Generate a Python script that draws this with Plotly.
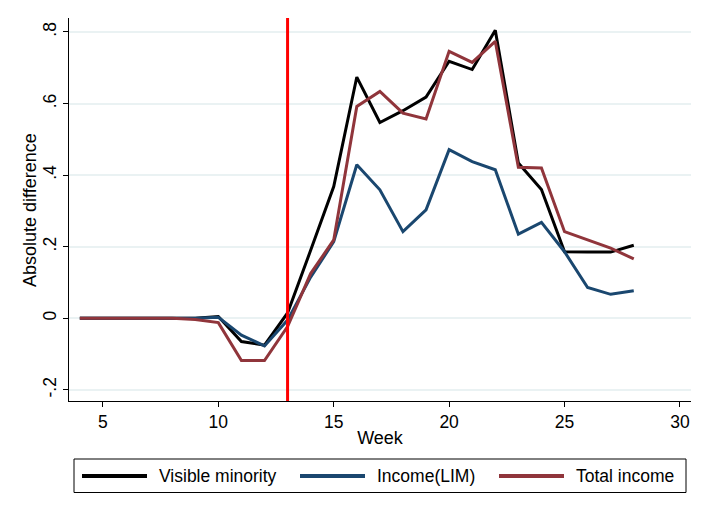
import plotly.graph_objects as go

WEEKS = list(range(4, 29))

VISIBLE_MINORITY = [
    0, 0, 0, 0, 0, 0, 0.005, -0.065, -0.075, 0.015, 0.19, 0.368,
    0.674, 0.547, 0.58, 0.618, 0.718, 0.695, 0.805, 0.434, 0.36,
    0.186, 0.185, 0.185, 0.204,
]
INCOME_LIM = [
    0, 0, 0, 0, 0, 0, 0.003, -0.047, -0.077, -0.005, 0.115, 0.214,
    0.429, 0.359, 0.242, 0.303, 0.471, 0.438, 0.415, 0.235, 0.268,
    0.186, 0.086, 0.067, 0.077,
]
TOTAL_INCOME = [
    0, 0, 0, 0, 0, -0.003, -0.012, -0.118, -0.118, -0.023, 0.125, 0.219,
    0.592, 0.634, 0.573, 0.557, 0.746, 0.715, 0.774, 0.422, 0.42,
    0.242, 0.219, 0.196, 0.166,
]

SERIES_NAMES = ["Visible minority", "Income(LIM)", "Total income"]
SERIES_COLORS = ["#000000", "#1a476f", "#90353b"]

POLICY_WEEK = 13

X_TICKS = [5, 10, 15, 20, 25, 30]
Y_TICKS = [-0.2, 0, 0.2, 0.4, 0.6, 0.8]
Y_TICK_LABELS = ["-.2", "0", ".2", ".4", ".6", ".8"]
X_TITLE = "Week"
Y_TITLE = "Absolute difference"

FONT = "Liberation Sans, Arial, sans-serif"
TICK_FONT_SIZE = 17.5
TITLE_FONT_SIZE = 18
LEGEND_FONT_SIZE = 17.5

# the page body keeps the browser's default 8px margin, so the figure is
# drawn 8px right/down of the window corner; lay it out in window pixels
PAGE_OFFSET = 8
WIDTH, HEIGHT = 710 - PAGE_OFFSET, 517 - PAGE_OFFSET
PLOT_LEFT, PLOT_RIGHT, PLOT_TOP, PLOT_BOTTOM = 69, 691, 18, 401
MARGIN = dict(
    l=PLOT_LEFT - PAGE_OFFSET,
    r=710 - PLOT_RIGHT,
    t=PLOT_TOP - PAGE_OFFSET,
    b=517 - PLOT_BOTTOM,
)


def px_x(x):
    return (x - PLOT_LEFT) / (PLOT_RIGHT - PLOT_LEFT)


def px_y(y):
    return (PLOT_BOTTOM - y) / (PLOT_BOTTOM - PLOT_TOP)


def make_figure() -> go.Figure:
    fig = go.Figure()
    for name, values, color in zip(
        SERIES_NAMES, [VISIBLE_MINORITY, INCOME_LIM, TOTAL_INCOME], SERIES_COLORS
    ):
        fig.add_trace(
            go.Scatter(
                x=WEEKS,
                y=values,
                mode="lines",
                name=name,
                line=dict(color=color, width=3),
                showlegend=False,
            )
        )

    fig.add_vline(x=POLICY_WEEK, line_color="#ff0000", line_width=3, layer="above")

    fig.update_xaxes(
        range=[3.53, 30.48],
        tickvals=X_TICKS,
        ticks="outside",
        ticklen=5,
        tickcolor="black",
        showline=True,
        linecolor="black",
        linewidth=1,
        showgrid=False,
        zeroline=False,
        automargin=False,
        title_text=X_TITLE,
        title_standoff=0,
        tickfont=dict(size=TICK_FONT_SIZE, color="black"),
        title_font=dict(size=TITLE_FONT_SIZE, color="black"),
    )
    fig.update_yaxes(
        range=[-0.231, 0.839],
        tickvals=Y_TICKS,
        ticktext=Y_TICK_LABELS,
        tickangle=-90,
        ticks="outside",
        ticklen=5,
        tickcolor="black",
        showline=True,
        linecolor="black",
        linewidth=1,
        showgrid=True,
        gridcolor="#eaf2f3",
        gridwidth=1.5,
        zeroline=False,
        automargin=False,
        tickfont=dict(size=TICK_FONT_SIZE, color="black"),
    )

    # y title placed by hand: plotly keeps it too far from the rotated ticks
    fig.add_annotation(
        xref="paper",
        yref="paper",
        x=px_x(30),
        y=px_y(210),
        xanchor="center",
        yanchor="middle",
        textangle=-90,
        text=Y_TITLE,
        showarrow=False,
        font=dict(size=TITLE_FONT_SIZE, color="black"),
    )

    _add_legend_box(fig)

    fig.update_layout(
        width=WIDTH,
        height=HEIGHT,
        margin=MARGIN,
        plot_bgcolor="white",
        paper_bgcolor="white",
        font=dict(family=FONT, size=TICK_FONT_SIZE, color="black"),
        showlegend=False,
    )
    return fig


def _add_legend_box(fig):
    # Stata-style legend: boxed row below the plot, long line samples
    fig.add_shape(
        type="rect",
        xref="paper",
        yref="paper",
        x0=px_x(74),
        x1=px_x(686),
        y0=px_y(492.5),
        y1=px_y(459),
        line=dict(color="black", width=1),
        fillcolor="white",
    )
    y_mid = px_y(476)
    sample_starts = [82, 300, 499]
    for name, color, start in zip(SERIES_NAMES, SERIES_COLORS, sample_starts):
        fig.add_shape(
            type="line",
            xref="paper",
            yref="paper",
            x0=px_x(start),
            x1=px_x(start + 65),
            y0=y_mid,
            y1=y_mid,
            line=dict(color=color, width=4),
        )
        fig.add_annotation(
            xref="paper",
            yref="paper",
            x=px_x(start + 75),
            y=y_mid,
            xanchor="left",
            yanchor="middle",
            text=name,
            showarrow=False,
            font=dict(size=LEGEND_FONT_SIZE, color="black"),
        )


fig = make_figure()
fig.write_html("out.html")
